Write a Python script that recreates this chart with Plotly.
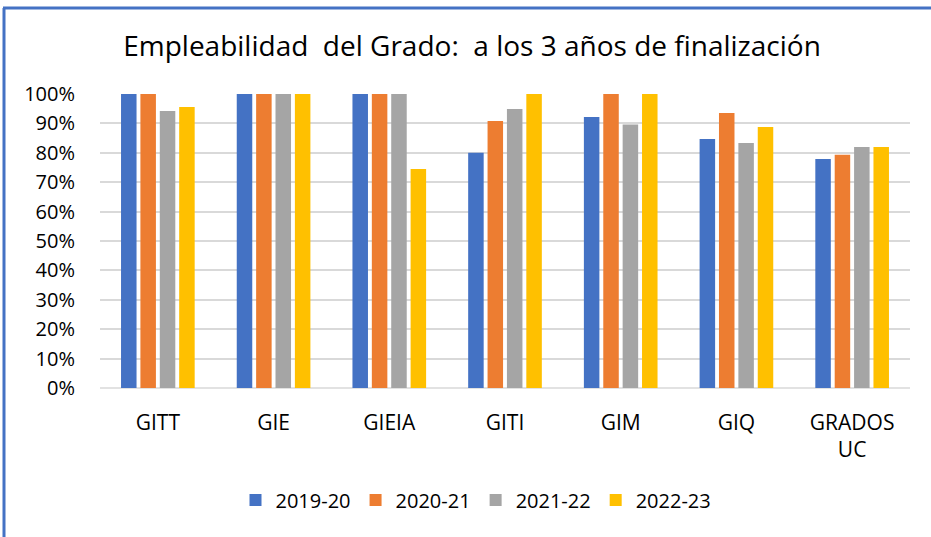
import plotly.graph_objects as go

categories = ["GITT", "GIE", "GIEIA", "GITI", "GIM", "GIQ", "GRADOS<br>UC"]
series_names = ["2019-20", "2020-21", "2021-22", "2022-23"]
v2019 = [100, 100, 100, 80.0, 92.2, 84.7, 77.9]
v2020 = [100, 100, 100, 90.8, 100, 93.5, 79.3]
v2021 = [94.2, 100, 100, 94.9, 89.6, 83.3, 82.0]
v2022 = [95.6, 100, 74.5, 100, 100, 88.8, 82.0]
values = [v2019, v2020, v2021, v2022]
colors = ["#4472C4", "#ED7D31", "#A5A5A5", "#FFC000"]
yticks = list(range(0, 101, 10))
yticklabels = [f"{t}%" for t in yticks]

W, H = 931, 537
ml, mr, mt, mb = 100, 21, 94, 149

fig = go.Figure()
for name, vals, c in zip(series_names, values, colors):
    fig.add_trace(go.Bar(x=categories, y=vals, name=name, marker_color=c,
                         marker_line_width=0))

pw = W - ml - mr
ph = H - mt - mb
def px_x(px):
    return (px - ml) / pw
def px_y(py):
    return (H - mb - py) / ph

fig.update_layout(
    width=W, height=H,
    margin=dict(l=ml, r=mr, t=mt, b=mb, autoexpand=False),
    paper_bgcolor="white", plot_bgcolor="white",
    barmode="group", bargap=0.33, bargroupgap=0.2,
    font=dict(family="Open Sans, sans-serif", color="#000000"),
    title=dict(text="Empleabilidad  del Grado:  a los 3 años de finalización",
               x=472 / W, xanchor="center", y=1 - 46 / H, yanchor="middle",
               xref="container", yref="container",
               font=dict(size=28, color="#000000")),
    legend=dict(orientation="h", x=476 / W, xanchor="center",
                xref="container", yref="container",
                y=1 - 500 / H, yanchor="middle", font=dict(size=20),
                traceorder="normal", itemwidth=30),
    xaxis=dict(tickfont=dict(size=21), showline=False, ticks="",
               showgrid=False, ticklabelstandoff=20),
    yaxis=dict(range=[0, 100], tickvals=yticks, ticktext=yticklabels,
               tickfont=dict(size=20), showgrid=True, gridcolor="#D9D9D9",
               gridwidth=1.5, zeroline=False, showline=False, ticks="",
               ticklabelstandoff=24),
    shapes=[
        dict(type="line", xref="paper", yref="paper",
             x0=px_x(4), x1=px_x(4), y0=px_y(8), y1=px_y(540),
             line=dict(color="#4472C4", width=3)),
        dict(type="line", xref="paper", yref="paper",
             x0=px_x(3), x1=px_x(935), y0=px_y(8), y1=px_y(8),
             line=dict(color="#4472C4", width=3)),
        dict(type="line", xref="paper", yref="paper",
             x0=0, x1=1, y0=0, y1=0, layer="below",
             line=dict(color="#D9D9D9", width=1.5)),
    ],
)

fig.write_html("out.html", config={"displayModeBar": False},
               post_script="document.body.style.margin='0';document.body.style.padding='0';")
